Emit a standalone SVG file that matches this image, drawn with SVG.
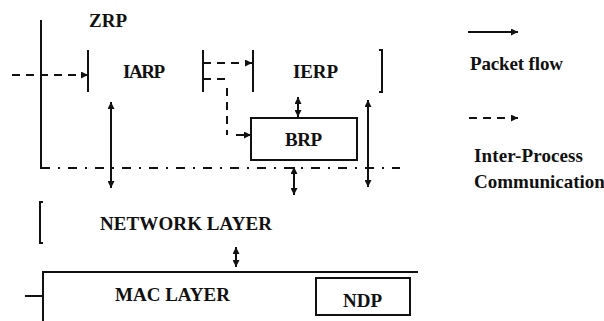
<svg xmlns="http://www.w3.org/2000/svg" width="604" height="321" viewBox="0 0 604 321">
<defs>
<marker id="ah" viewBox="0 0 10 10" refX="10" refY="5" markerWidth="7" markerHeight="7" markerUnits="userSpaceOnUse" orient="auto-start-reverse">
<path d="M0,0 L10,5 L0,10 Z" fill="#111"/>
</marker>
<style>
.ln{stroke:#111;stroke-width:2;fill:none}
.ds{stroke:#111;stroke-width:2;fill:none;stroke-dasharray:8 6}
.dd{stroke:#111;stroke-width:2;fill:none;stroke-dasharray:9 8 2 8}
.bx{stroke:#111;stroke-width:2;fill:#fff}
.t{font-family:"Liberation Serif","Times New Roman",serif;font-weight:bold;font-size:19px;fill:#111}
.a{marker-end:url(#ah)}
.b{marker-start:url(#ah);marker-end:url(#ah)}
</style>
</defs>
<rect width="604" height="321" fill="#fff"/>
<g id="zrp">
<line class="ln" x1="41" y1="20" x2="41" y2="169"/>
<line class="dd" x1="41" y1="168" x2="400" y2="168"/>
<text class="t" x="89" y="27" textLength="38">ZRP</text>
</g>
<g id="iarp">
<line class="ln" x1="88" y1="50" x2="88" y2="92"/>
<line class="ln" x1="203" y1="50" x2="203" y2="92"/>
<text class="t" x="123" y="78" textLength="42">IARP</text>
</g>
<g id="ierp">
<line class="ln" x1="253" y1="50" x2="253" y2="92"/>
<path class="ln" d="M379,50 H382 V92 H379"/>
<text class="t" x="293" y="78" textLength="45">IERP</text>
</g>
<g id="brp">
<rect class="bx" x="251" y="118" width="106" height="42"/>
<text class="t" x="285" y="146" textLength="37">BRP</text>
</g>
<g id="network">
<path class="ln" d="M43,202 H40 V243 H43"/>
<text class="t" x="100" y="230" textLength="172">NETWORK LAYER</text>
</g>
<g id="mac">
<path class="ln" d="M418,272 H43 V321"/>
<line class="ln" x1="25" y1="296" x2="43" y2="296"/>
<text class="t" x="115" y="301" textLength="115">MAC LAYER</text>
</g>
<g id="ndp">
<rect class="bx" x="316" y="278" width="94" height="37"/>
<text class="t" x="343" y="307" textLength="39">NDP</text>
</g>
<g id="connectors">
<line class="ds a" x1="12" y1="75" x2="88" y2="75"/>
<line class="ds a" x1="203" y1="63" x2="252" y2="63"/>
<path class="ds" d="M203,79 H229"/>
<line class="ds" x1="227" y1="88" x2="227" y2="135"/>
<line class="ln a" x1="236" y1="135" x2="251" y2="135"/>
<line class="ln b" x1="298" y1="97" x2="298" y2="117"/>
<line class="ln b" x1="294" y1="167" x2="294" y2="195"/>
<line class="ln b" x1="368" y1="100" x2="368" y2="187"/>
<line class="ln b" x1="111" y1="102" x2="111" y2="188"/>
<line class="ln b" x1="236" y1="247" x2="236" y2="267"/>
</g>
<g id="legend">
<line class="ln a" x1="468" y1="32" x2="518" y2="32"/>
<text class="t" x="470" y="70" textLength="93">Packet flow</text>
<line class="ds a" x1="469" y1="118" x2="518" y2="118"/>
<text class="t" x="474" y="162" textLength="109">Inter-Process</text>
<text class="t" x="474" y="188">Communication</text>
</g>
</svg>
